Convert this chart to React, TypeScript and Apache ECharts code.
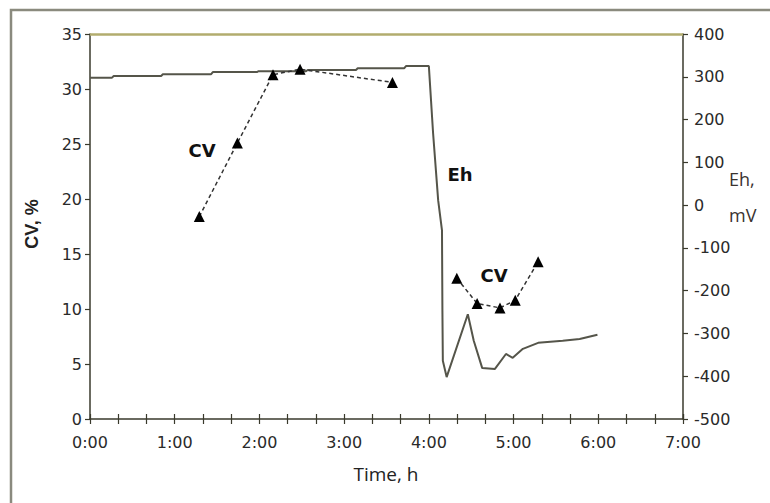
import { useEffect, useRef } from 'react';
import * as echarts from 'echarts';

// CV measurements (time in hours, CV in %); null splits the two runs
const cvTime = [1.29, 1.74, 2.16, 2.48, 3.57, null, 4.33, 4.57, 4.84, 5.02, 5.29];
const cvValue = [18.4, 25.1, 31.3, 31.8, 30.6, null, 12.8, 10.5, 10.1, 10.8, 14.3];

// Eh record (time in hours, Eh in mV)
const ehTime = [0, 0.26, 0.28, 0.84, 0.86, 1.43, 1.45, 1.97, 1.99, 2.55, 2.57, 3.14, 3.16, 3.71, 3.73, 4.0, 4.05, 4.11, 4.155, 4.16, 4.165, 4.21, 4.46, 4.53, 4.63, 4.78, 4.91, 4.99, 5.11, 5.29, 5.58, 5.78, 5.99];
const ehValue = [298, 298, 302, 302, 306, 306, 311, 311, 313, 313, 316, 316, 320, 320, 325, 325, 168, 11, -59, -247, -364, -402, -255, -317, -381, -383, -348, -357, -336, -322, -317, -313, -303];

const xTickLabels = ['0:00', '1:00', '2:00', '3:00', '4:00', '5:00', '6:00', '7:00'];

const tickFont = 'DejaVu Sans';

export default function App() {
  const ref = useRef<HTMLDivElement>(null);
  useEffect(() => {
    if (!ref.current) return;
    const chart = echarts.init(ref.current, undefined, { renderer: 'svg' });
    const cvData = cvTime.map((t, i) => (t === null ? [null, null] : [t, cvValue[i]]));
    const ehData = ehTime.map((t, i) => [t, ehValue[i]]);
    const axisColor = '#3a3a2c';
    const xFmt = (v: number) => {
      const r = Math.round(v);
      return Math.abs(v - r) < 1e-6 ? xTickLabels[r] ?? '' : '';
    };
    chart.setOption({
      animation: false,
      backgroundColor: '#ffffff',
      grid: { left: 90, right: 87, top: 34, bottom: 84, containLabel: false },
      xAxis: [
        {
          type: 'value', min: 0, max: 7, interval: 1 / 3,
          axisLine: { show: true, onZero: false, lineStyle: { color: axisColor, width: 1.5 } },
          axisTick: { show: true, length: 5, lineStyle: { color: axisColor, width: 1.2 } },
          axisLabel: { formatter: xFmt, fontFamily: tickFont, fontSize: 16, color: '#2a2a2a', margin: 15 },
          splitLine: { show: false },
        },
        {
          type: 'value', min: 0, max: 7, interval: 1 / 3, position: 'bottom',
          axisLine: { show: false, onZero: false },
          axisTick: { show: true, inside: true, length: 5, lineStyle: { color: axisColor, width: 1.2 } },
          axisLabel: { show: false },
          splitLine: { show: false },
        },
      ],
      yAxis: [
        {
          type: 'value', min: 0, max: 35, interval: 5, position: 'left',
          axisLine: { show: true, onZero: false, lineStyle: { color: axisColor, width: 1.5 } },
          axisTick: { show: true, length: 5, lineStyle: { color: axisColor, width: 1.2 } },
          axisLabel: { fontFamily: tickFont, fontSize: 16, color: '#2a2a2a', margin: 8 },
          splitLine: { show: false },
        },
        {
          type: 'value', min: -500, max: 400, interval: 100, position: 'right',
          axisLine: { show: true, onZero: false, lineStyle: { color: axisColor, width: 1.5 } },
          axisTick: { show: true, length: 5, lineStyle: { color: axisColor, width: 1.2 } },
          axisLabel: { fontFamily: tickFont, fontSize: 16, color: '#2a2a2a', margin: 11 },
          splitLine: { show: false },
        },
      ],
      series: [
        {
          name: 'Eh', type: 'line', xAxisIndex: 0, yAxisIndex: 1, data: ehData,
          symbol: 'none', lineStyle: { color: '#55554a', width: 2 }, z: 2,
        },
        {
          name: 'CV', type: 'line', xAxisIndex: 0, yAxisIndex: 0, data: cvData,
          connectNulls: false,
          symbol: 'triangle', symbolSize: 11,
          itemStyle: { color: '#000' },
          lineStyle: { color: '#333', width: 1.5, type: [4, 3] },
          z: 3,
          markLine: {
            silent: true, symbol: 'none', label: { show: false },
            lineStyle: { color: '#b2ac6e', width: 2.5, type: 'solid' },
            data: [{ yAxis: 35 }],
          },
        },
      ],
      graphic: [
        { type: 'rect', shape: { x: 11, y: 10, width: 820, height: 600 }, style: { fill: 'none', stroke: '#8a8a7e', lineWidth: 2.5 }, silent: true },
        { type: 'text', x: 32, y: 224, rotation: Math.PI / 2, style: { text: 'CV, %', font: 'bold 18px "Liberation Sans"', fill: '#222', textAlign: 'center', textVerticalAlign: 'middle' } },
        { type: 'text', x: 386, y: 474, style: { text: 'Time, h', font: '19px "Open Sans"', fill: '#222', textAlign: 'center', textVerticalAlign: 'middle' } },
        { type: 'text', x: 729, y: 179, style: { text: 'Eh,', font: '18px "Open Sans"', fill: '#3a3330', textAlign: 'left', textVerticalAlign: 'middle' } },
        { type: 'text', x: 729, y: 215, style: { text: 'mV', font: '18px "Open Sans"', fill: '#3a3330', textAlign: 'left', textVerticalAlign: 'middle' } },
        { type: 'text', x: 202, y: 150, style: { text: 'CV', font: 'bold 18px "DejaVu Sans"', fill: '#111', textAlign: 'center', textVerticalAlign: 'middle' } },
        { type: 'text', x: 460, y: 174, style: { text: 'Eh', font: 'bold 18px "DejaVu Sans"', fill: '#111', textAlign: 'center', textVerticalAlign: 'middle' } },
        { type: 'text', x: 494, y: 275, style: { text: 'CV', font: 'bold 18px "DejaVu Sans"', fill: '#111', textAlign: 'center', textVerticalAlign: 'middle' } },
      ],
    });
    return () => chart.dispose();
  }, []);
  return <div ref={ref} style={{ position: 'fixed', left: 0, top: 0, width: 770, height: 503, background: '#fff' }} />;
}
